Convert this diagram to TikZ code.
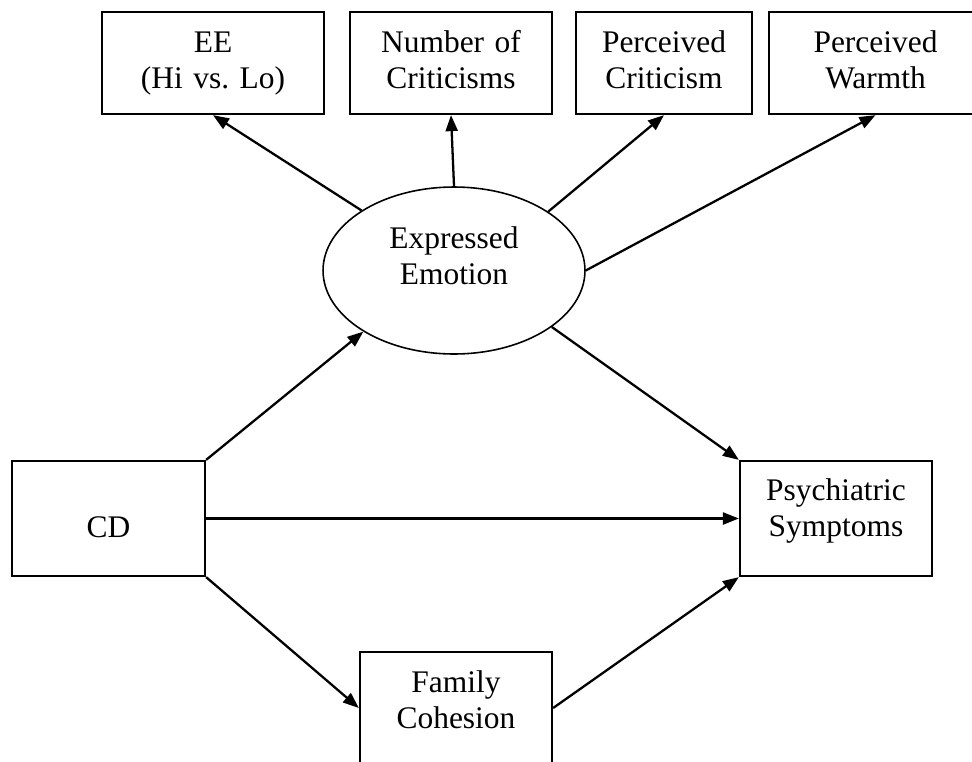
\documentclass[tikz,border=0pt]{standalone}
\usepackage{fontspec}
\setmainfont{Liberation Serif}
\usetikzlibrary{arrows.meta,shapes,positioning}

\begin{document}
\begin{tikzpicture}[x=0.02cm,y=-0.02cm,>={Triangle[length=0.32cm,width=0.24cm]},
	Edge/.style={->,black,line width=1.3pt},
	VarBox/.style={rectangle,fill=white,draw=black,line width=1.3pt,align=center,inner sep=0pt,
		text height=0.8cm,font=\fontsize{17.9pt}{20.5pt}\selectfont},
	LatentNode/.style={ellipse,fill=white,draw=black,line width=0.9pt,align=center,inner sep=0pt,
		minimum width=5.24cm,minimum height=3.34cm,font=\fontsize{17.9pt}{20.5pt}\selectfont},
]
	\useasboundingbox (0,0) rectangle (972,761);
	\clip (0,0) rectangle (972,761);

	\node[VarBox,text width=4.44cm,text depth=1.24cm] (EE) at (213,63) {EE\\(Hi vs.\ Lo)};
	\node[VarBox,text width=4.04cm,text depth=1.24cm] (NC) at (451,63) {Number of\\Criticisms};
	\node[VarBox,text width=3.52cm,text depth=1.24cm] (PC) at (664,63) {Perceived\\Criticism};
	\node[VarBox,text width=4.26cm,text depth=1.24cm] (PW) at (875.5,63) {Perceived\\Warmth};

	\node[LatentNode,text width=3cm,text height=0.44cm,text depth=1.34cm] (Emo) at (454,270.5) {Expressed\\Emotion};

	\node[VarBox,text width=3.86cm,text height=1.52cm,text depth=0.78cm] (CD) at (108.5,518.5) {CD};
	\node[VarBox,text width=3.84cm,text height=0.78cm,text depth=1.52cm] (PS) at (836,518.5) {Psychiatric\\Symptoms};
	\node[VarBox,text width=3.84cm,text depth=1.44cm] (FC) at (456,708) {Family\\Cohesion};

	\path[Edge]
	(Emo.147) edge (EE.south)
	(Emo.north) edge (NC.south)
	(Emo.32) edge (PC.south)
	(Emo.east) edge (PW.south)
	(CD.north east) edge (Emo.214)
	(Emo.330) edge (PS.north west)
	(CD) edge (PS)
	(CD.south east) edge (FC.west)
	(FC.east) edge (PS.south west)
	;
\end{tikzpicture}
\end{document}
